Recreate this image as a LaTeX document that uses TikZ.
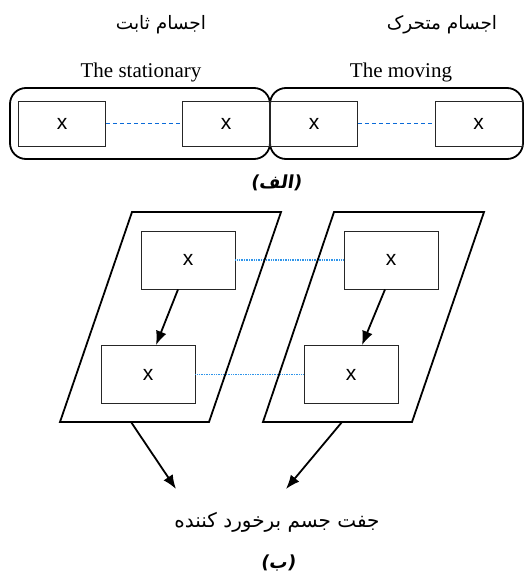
\documentclass[tikz,border=0pt]{standalone}
\usepackage{fontspec}
\setmainfont{Liberation Serif}
\newfontfamily\arabicfont[Script=Arabic]{DejaVu Sans}
\newfontfamily\arabiccap[Script=Arabic,FakeSlant=0.15]{DejaVu Sans Bold}
\newfontfamily\parencap[FakeSlant=0.15]{DejaVu Sans Bold}
\newfontfamily\xfont{Liberation Sans}
\TeXXeTstate=1
\usetikzlibrary{arrows.meta}
\definecolor{dashblue}{HTML}{0A6AD8}
\definecolor{dotblue}{HTML}{2F95EA}
\begin{document}
\begin{tikzpicture}[x=1pt,y=-1pt,
  xbox/.style={draw=black!85, line width=0.9pt, inner sep=0pt,
    font=\xfont\fontsize{21}{21}\selectfont},
  topbox/.style={xbox, minimum width=87pt, minimum height=45pt},
  lowbox/.style={xbox, minimum width=94pt, minimum height=58pt},
  group/.style={draw, line width=1.8pt, rounded corners=16pt, inner sep=0pt, minimum height=71pt},
  plane/.style={draw, line width=1.8pt, line join=miter},
  fa/.style={font=\arabicfont\fontsize{18.5}{18.5}\selectfont, inner sep=0pt},
  fab/.style={font=\arabicfont\fontsize{20}{20}\selectfont, inner sep=0pt},
  en/.style={font=\fontsize{21}{21}\selectfont, inner sep=0pt},
  captxt/.style={font=\fontsize{18}{18}\selectfont, inner sep=0pt},
  dashconn/.style={draw=dashblue, line width=1.3pt, dash pattern=on 4.5pt off 2.5pt},
  dotconn/.style={draw=dotblue, line width=1.3pt, dash pattern=on 1pt off 0.7pt},
  arr/.style={line width=1.8pt, -{Latex[length=14pt,width=11pt]}}]
\useasboundingbox (0,0) rectangle (531,575);
% texts top
\node[fa] (t1) at (161,25) {\beginR اجسام ثابت\endR};
\node[fa] (t2) at (442,25) {\beginR اجسام متحرک\endR};
\node[en] (e1) at (141,72) {The stationary};
\node[en] (e2) at (401,72) {The moving};
% groups
\node[group, minimum width=260pt] (g1) at (140,123.5) {};
\node[group, minimum width=253pt] (g2) at (396.5,123.5) {};
% top boxes
\node[topbox] (b1) at (62,123.5) {x};
\node[topbox] (b2) at (226,123.5) {x};
\node[topbox] (b3) at (314,123.5) {x};
\node[topbox] (b4) at (478.5,123.5) {x};
\draw[dashconn] (b1.east) -- (b2.west);
\draw[dashconn] (b3.east) -- (b4.west);
\node[captxt] (ca) at (276,183) {{\parencap(}{\arabiccap\beginR الف\endR}{\parencap)}};
% lower boxes
\node[lowbox] (tl) at (188,260) {x};
\node[lowbox] (tr) at (391,260) {x};
\node[lowbox] (bl) at (148,374.5) {x};
\node[lowbox] (br) at (351,374.5) {x};
\draw[dotconn] (tl.east) -- (tr.west);
\draw[dotconn] (bl.east) -- (br.west);
% parallelograms
\draw[plane] (132,212) -- (281,212) -- (209,422) -- (60,422) -- cycle;
\draw[plane] (334,212) -- (484,212) -- (412,422) -- (263,422) -- cycle;
\coordinate (pl) at (131,422);
\coordinate (pr) at (342,422);
\coordinate (al) at (176,489);
\coordinate (ar) at (286,489);
\draw[arr] ([xshift=-10pt]tl.south) -- ([xshift=8pt]bl.north);
\draw[arr] ([xshift=-6pt]tr.south) -- ([xshift=11pt]br.north);
\draw[arr] (pl) -- (al);
\draw[arr] (pr) -- (ar);
\node[fab] (pair) at (277,522) {\beginR جفت جسم برخورد کننده\endR};
\node[captxt] (cb) at (278,563) {{\parencap(}{\arabiccap\beginR ب\endR}{\parencap)}};
\end{tikzpicture}
\end{document}
